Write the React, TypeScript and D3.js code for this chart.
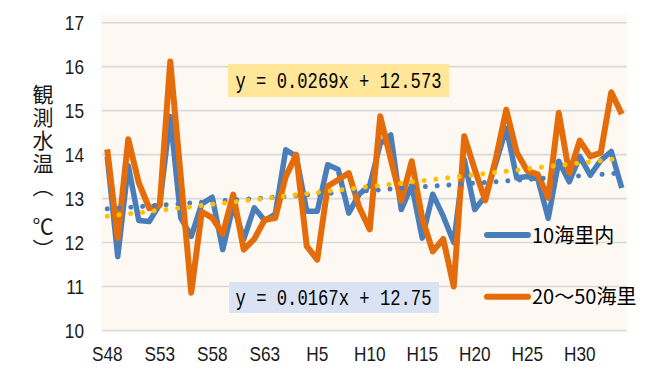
import React from "react";
import * as d3 from "d3";

const years: number[] = d3.range(1973, 2023);
const tickLabels = ["S48", "S53", "S58", "S63", "H5", "H10", "H15", "H20", "H25", "H30"];
const tickIndex = [0, 5, 10, 15, 20, 25, 30, 35, 40, 45];
const yTicks = [10, 11, 12, 13, 14, 15, 16, 17];

const near10: number[] = [
  13.95, 11.68, 13.75, 12.5, 12.48, 12.87, 14.87, 12.56, 12.14, 12.88,
  13.03, 11.84, 12.85, 12.08, 12.79, 12.5, 12.65, 14.11, 13.96, 12.71,
  12.71, 13.77, 13.66, 12.67, 13.1, 13.3, 14.25, 14.45, 12.75, 13.3,
  12.1, 13.1, 12.6, 12.0, 13.89, 12.75, 13.05, 13.8, 14.6, 13.47,
  13.5, 13.45, 12.55, 13.85, 13.38, 13.96, 13.53, 13.87, 14.07, 13.24,
];
const off20to50: number[] = [
  14.12, 12.1, 14.35, 13.36, 12.78, 12.85, 16.12, 13.5, 10.86, 12.7,
  12.56, 12.2, 13.09, 11.84, 12.08, 12.52, 12.56, 13.5, 14.0, 11.92,
  11.61, 13.28, 13.43, 13.58, 12.8, 12.3, 14.87, 13.9, 12.95, 13.85,
  12.55, 11.8, 12.08, 11.0, 14.42, 13.66, 12.96, 13.9, 15.02, 14.05,
  13.63, 13.55, 13.02, 14.95, 13.57, 14.32, 13.96, 14.04, 15.42, 14.92,
];
const seriesNames = ["10海里内", "20～50海里"];
const trendBlue = { slope: 0.0167, intercept: 12.75, label: "y = 0.0167x + 12.75" };
const trendOrange = { slope: 0.0269, intercept: 12.573, label: "y = 0.0269x + 12.573" };

const BLUE = "#4A7EBB";
const ORANGE = "#E46C0A";
const GOLD = "#FFC000";
const NUM_FONT = "'Liberation Sans', Arimo, sans-serif";
const JP_FONT = "'Noto Sans CJK JP', sans-serif";
const MONO = "'Liberation Mono', 'DejaVu Sans Mono', monospace";

export default function App() {
  const W = 659, H = 378;
  const x = d3.scalePoint<number>().domain(years).range([102, 627]).padding(0.5);
  const y = d3.scaleLinear().domain([10, 17]).range([330.5, 22.7]);
  const line = d3
    .line<number>()
    .x((_, i) => x(years[i]) as number)
    .y((d) => y(d));
  const trend = (t: { slope: number; intercept: number }) => {
    const n = years.length;
    return d3.line<number>()
      .x((i) => x(years[i]) as number)
      .y((i) => y(t.slope * (i + 1) + t.intercept))([0, n - 1]) as string;
  };
  return (
    <svg width={W} height={H} style={{ position: "absolute", left: 0, top: 0, background: "#fff" }}>
      <rect x={101} y={15} width={526} height={318} fill="#FDF8F2" />
      {yTicks.map((t) => (
        <line key={t} x1={102} x2={627} y1={y(t)} y2={y(t)} stroke="#D9D9D9" strokeWidth={1.6} />
      ))}
      {yTicks.map((t) => (
        <g key={"l" + t} transform={`translate(84,${y(t) + 7.5}) scale(0.82,1)`}>
          <text textAnchor="end" fontFamily={NUM_FONT} fontSize={21} fill="#1a1a1a">{t}</text>
        </g>
      ))}
      {tickIndex.map((ix, k) => (
        <g key={"x" + k} transform={`translate(${x(years[ix])},${360.5}) scale(0.82,1)`}>
          <text textAnchor="middle" fontFamily={NUM_FONT} fontSize={21} fill="#1a1a1a">{tickLabels[k]}</text>
        </g>
      ))}
      <path d={line(near10) as string} fill="none" stroke={BLUE} strokeWidth={5.5} strokeLinejoin="round" />
      <path d={line(off20to50) as string} fill="none" stroke={ORANGE} strokeWidth={6} strokeLinejoin="round" />
      <path d={trend(trendBlue)} fill="none" stroke={BLUE} strokeWidth={5} strokeLinecap="round" strokeDasharray="0.01 11.8" />
      <path d={trend(trendOrange)} fill="none" stroke={GOLD} strokeWidth={5} strokeLinecap="round" strokeDasharray="0.01 11.8" />

      <rect x={228} y={64} width={221} height={33} fill="#FFE699" />
      <text x={235.5} y={88.3} fontFamily={MONO} fontSize={22}
        textLength={206} lengthAdjust="spacingAndGlyphs" fill="#000">{trendOrange.label}</text>
      <rect x={229} y={282} width={210} height={31} fill="#DAE3F3" />
      <text x={235.5} y={305} fontFamily={MONO} fontSize={22}
        textLength={196} lengthAdjust="spacingAndGlyphs" fill="#000">{trendBlue.label}</text>

      <line x1={487} x2={528} y1={235} y2={235} stroke={BLUE} strokeWidth={6} strokeLinecap="round" />
      <text x={532} y={243} fontFamily={JP_FONT} fontSize={20} fill="#000">{seriesNames[0]}</text>
      <line x1={487} x2={528} y1={296.7} y2={296.7} stroke={ORANGE} strokeWidth={6} strokeLinecap="round" />
      <text x={532} y={304} fontFamily={JP_FONT} fontSize={20} fill="#000">{seriesNames[1]}</text>

      <text x={43} y={84} fontFamily={JP_FONT} fontSize={21} fill="#1a1a1a"
        style={{ writingMode: "vertical-rl" as any }} letterSpacing={1.8}>観測水温（</text>
      <text x={43} y={216} fontFamily={JP_FONT} fontSize={21} fill="#1a1a1a"
        style={{ writingMode: "vertical-rl" as any }} letterSpacing={1.8}>℃）</text>
    </svg>
  );
}
